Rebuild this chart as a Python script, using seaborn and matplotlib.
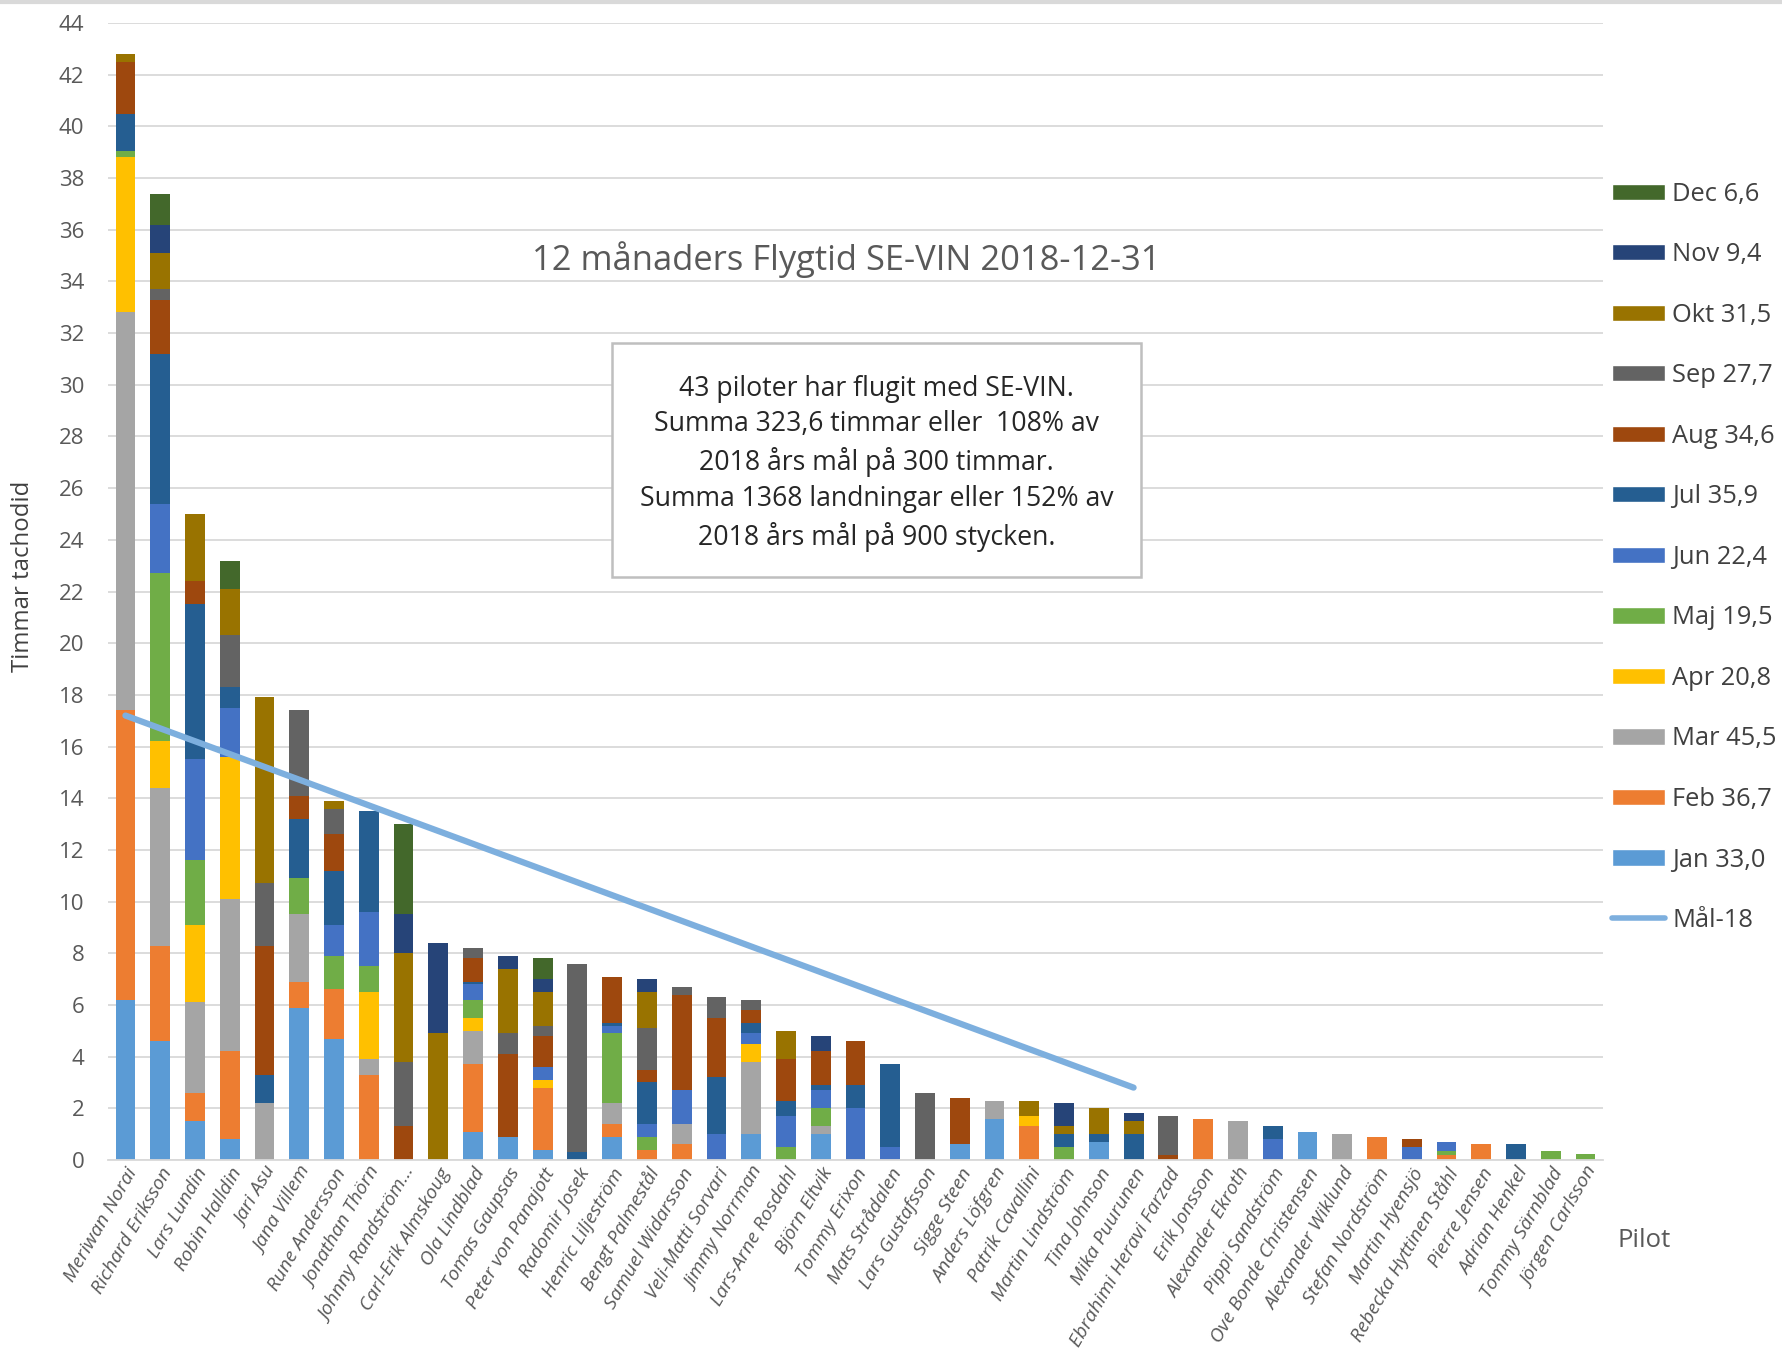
import pandas as pd
import matplotlib
matplotlib.use("Agg")
import matplotlib.pyplot as plt
from matplotlib.patches import Patch, Rectangle
from matplotlib.lines import Line2D
import seaborn as sns

# Pilots in chart order
pilots = ["Meriwan Norai", "Richard Eriksson", "Lars Lundin", "Robin Halldin", "Jari Asu",
          "Jana Villem", "Rune Andersson", "Jonathan Thörn", "Johnny Randström…", "Carl-Erik Almskoug",
          "Ola Lindblad", "Tomas Gaupsas", "Peter von Panajott", "Radomir Josek", "Henric Liljeström",
          "Bengt Palmestål", "Samuel Widarsson", "Veli-Matti Sorvari", "Jimmy Norrman", "Lars-Arne Rosdahl",
          "Björn Eltvik", "Tommy Erixon", "Mats Strådalen", "Lars Gustafsson", "Sigge Steen",
          "Anders Löfgren", "Patrik Cavallini", "Martin Lindström", "Tina Johnson", "Mika Puurunen",
          "Ebrahimi Heravi Farzad", "Erik Jonsson", "Alexander Ekroth", "Pippi Sandström", "Ove Bonde Christensen",
          "Alexander Wiklund", "Stefan Nordström", "Martin Hyensjö", "Rebecka Hyttinen Ståhl", "Pierre Jensen",
          "Adrian Henkel", "Tommy Särnblad", "Jörgen Carlsson"]

# Hours per month
jan = [6.2, 4.6, 1.5, 0.8, 0, 5.9, 4.7, 0, 0, 0,
       1.1, 0.9, 0.4, 0, 0.9, 0, 0, 0, 1.0, 0,
       1.0, 0, 0, 0, 0.6, 1.6, 0, 0, 0.7, 0,
       0, 0, 0, 0, 1.1, 0, 0, 0, 0, 0,
       0, 0, 0]
feb = [11.2, 3.7, 1.1, 3.4, 0, 1.0, 1.9, 3.3, 0, 0,
       2.6, 0, 2.4, 0, 0.5, 0.4, 0.6, 0, 0, 0,
       0, 0, 0, 0, 0, 0, 1.3, 0, 0, 0,
       0, 1.6, 0, 0, 0, 0, 0.9, 0, 0.2, 0.6,
       0, 0, 0]
mar = [15.4, 6.1, 3.5, 5.9, 2.2, 2.6, 0, 0.6, 0, 0,
       1.3, 0, 0, 0, 0.8, 0, 0.8, 0, 2.8, 0,
       0.3, 0, 0, 0, 0, 0.7, 0, 0, 0, 0,
       0, 0, 1.5, 0, 0, 1.0, 0, 0, 0, 0,
       0, 0, 0]
apr = [6.0, 1.8, 3.0, 5.5, 0, 0, 0, 2.6, 0, 0,
       0.5, 0, 0.3, 0, 0, 0, 0, 0, 0.7, 0,
       0, 0, 0, 0, 0, 0, 0.4, 0, 0, 0,
       0, 0, 0, 0, 0, 0, 0, 0, 0, 0,
       0, 0, 0]
maj = [0.25, 6.5, 2.5, 0, 0, 1.4, 1.3, 1.0, 0, 0,
       0.7, 0, 0, 0, 2.7, 0.5, 0, 0, 0, 0.5,
       0.7, 0, 0, 0, 0, 0, 0, 0.5, 0, 0,
       0, 0, 0, 0, 0, 0, 0, 0, 0.15, 0,
       0, 0.35, 0.25]
jun = [0, 2.7, 3.9, 1.9, 0, 0, 1.2, 2.1, 0, 0,
       0.6, 0, 0.5, 0, 0.3, 0.5, 1.3, 1.0, 0.4, 1.2,
       0.7, 2.0, 0.5, 0, 0, 0, 0, 0, 0, 0,
       0, 0, 0, 0.8, 0, 0, 0, 0.5, 0.33, 0,
       0, 0, 0]
jul = [1.45, 5.8, 6.0, 0.8, 1.1, 2.3, 2.1, 3.9, 0, 0,
       0.1, 0, 0, 0.3, 0.1, 1.6, 0, 2.2, 0.4, 0.6,
       0.2, 0.9, 3.2, 0, 0, 0, 0, 0.5, 0.3, 1.0,
       0, 0, 0, 0.5, 0, 0, 0, 0, 0, 0,
       0.6, 0, 0]
aug = [2.0, 2.1, 0.9, 0, 5.0, 0.9, 1.4, 0, 1.3, 0,
       0.9, 3.2, 1.2, 0, 1.8, 0.5, 3.7, 2.3, 0.5, 1.6,
       1.3, 1.7, 0, 0, 1.8, 0, 0, 0, 0, 0,
       0.2, 0, 0, 0, 0, 0, 0, 0.3, 0, 0,
       0, 0, 0]
sep = [0, 0.4, 0, 2.0, 2.4, 3.3, 1.0, 0, 2.5, 0,
       0.4, 0.8, 0.4, 7.3, 0, 1.6, 0.3, 0.8, 0.4, 0,
       0, 0, 0, 2.6, 0, 0, 0, 0, 0, 0,
       1.5, 0, 0, 0, 0, 0, 0, 0, 0, 0,
       0, 0, 0]
okt = [0.3, 1.4, 2.6, 1.8, 7.2, 0, 0.3, 0, 4.2, 4.9,
       0, 2.5, 1.3, 0, 0, 1.4, 0, 0, 0, 1.1,
       0, 0, 0, 0, 0, 0, 0.6, 0.3, 1.0, 0.5,
       0, 0, 0, 0, 0, 0, 0, 0, 0, 0,
       0, 0, 0]
nov = [0, 1.1, 0, 0, 0, 0, 0, 0, 1.5, 3.5,
       0, 0.5, 0.5, 0, 0, 0.5, 0, 0, 0, 0,
       0.6, 0, 0, 0, 0, 0, 0, 0.9, 0, 0.3,
       0, 0, 0, 0, 0, 0, 0, 0, 0, 0,
       0, 0, 0]
dec = [0, 1.2, 0, 1.1, 0, 0, 0, 0, 3.5, 0,
       0, 0, 0.8, 0, 0, 0, 0, 0, 0, 0,
       0, 0, 0, 0, 0, 0, 0, 0, 0, 0,
       0, 0, 0, 0, 0, 0, 0, 0, 0, 0,
       0, 0, 0]

months = ["Jan", "Feb", "Mar", "Apr", "Maj", "Jun", "Jul", "Aug", "Sep", "Okt", "Nov", "Dec"]
month_values = [jan, feb, mar, apr, maj, jun, jul, aug, sep, okt, nov, dec]
legend_labels = ["Jan 33,0", "Feb 36,7", "Mar 45,5", "Apr 20,8", "Maj 19,5", "Jun 22,4",
                 "Jul 35,9", "Aug 34,6", "Sep 27,7", "Okt 31,5", "Nov 9,4", "Dec 6,6"]
colors = ["#5B9BD5", "#ED7D31", "#A5A5A5", "#FFC000", "#70AD47", "#4472C4",
          "#255E91", "#9E480E", "#636363", "#997300", "#264478", "#43682B"]

# Goal line (Mål-18)
mal_pilots = ["Meriwan Norai", "Mika Puurunen"]
mal_values = [17.2, 2.8]

# Long-form table with cumulative heights for stacking
rows = []
for m, vals in zip(months, month_values):
    for p, v in zip(pilots, vals):
        rows.append({"pilot": p, "month": m, "hours": v})
df = pd.DataFrame(rows)
df["month"] = pd.Categorical(df["month"], categories=months, ordered=True)
df = df.sort_values(["pilot", "month"])
df["cum"] = df.groupby("pilot")["hours"].cumsum()

sns.set_theme(style="white")
plt.rcParams["font.family"] = ["Open Sans", "DejaVu Sans"]

fig = plt.figure(figsize=(17.83, 13.57), dpi=100)
ax = fig.add_axes([0.0606, 0.1452, 0.8384, 0.8378])

# Draw from the top month down so lower months cover the cumulative bars
for m, c in zip(months[::-1], colors[::-1]):
    sub = df[df["month"] == m]
    sns.barplot(data=sub, x="pilot", y="cum", order=pilots, color=c, saturation=1,
                width=0.57, linewidth=0, ax=ax, zorder=2)

mal_x = [pilots.index(p) for p in mal_pilots]
ax.plot(mal_x, mal_values, color="#7DAFDE", lw=4.5, solid_capstyle="round", zorder=3)

ax.set_xlim(-0.5, len(pilots) - 0.5)
ax.set_ylim(0, 44)
ax.set_yticks(range(0, 45, 2))
ax.yaxis.grid(True, color="#D9D9D9", lw=1.3, zorder=0)
ax.set_axisbelow(True)
for s in ["top", "right", "left"]:
    ax.spines[s].set_visible(False)
ax.spines["bottom"].set_color("#D9D9D9")
ax.spines["bottom"].set_linewidth(1.3)
ax.tick_params(axis="both", length=0, colors="#595959")
ax.tick_params(axis="y", labelsize=16, pad=17)
ax.set_xticks(range(len(pilots)))
ax.set_xticklabels(pilots, rotation=60, ha="right", rotation_mode="anchor",
                   fontsize=14, color="#595959", style="italic")
ax.set_xlabel("")
ax.set_ylabel("")

ax.text(0.494, 0.792, "12 månaders Flygtid SE-VIN 2018-12-31", transform=ax.transAxes,
        ha="center", va="center", fontsize=24.8, color="#595959")

ax.add_patch(Rectangle((0.337, 0.513), 0.354, 0.206, transform=ax.transAxes,
                       facecolor="white", edgecolor="#BFBFBF", lw=1.8, zorder=4))
info = ("43 piloter har flugit med SE-VIN.\n"
        "Summa 323,6 timmar eller  108% av\n"
        "2018 års mål på 300 timmar.\n"
        "Summa 1368 landningar eller 152% av\n"
        "2018 års mål på 900 stycken.")
ax.text(0.514, 0.613, info, transform=ax.transAxes, ha="center", va="center",
        fontsize=19.2, color="#262626", linespacing=1.375, zorder=5)

fig.text(0.006, 0.575, "Timmar tachodid", rotation=90, ha="left", va="center",
         fontsize=17.3, color="#404040")
fig.text(0.907, 0.086, "Pilot", ha="left", va="center", fontsize=18.5, color="#595959")

# thin frame line at the top of the image
fig.add_artist(Line2D([0, 1], [0.9985, 0.9985], transform=fig.transFigure,
                      color="#D9D9D9", lw=3))

handles = [Patch(facecolor=c, label=l) for c, l in zip(colors[::-1], legend_labels[::-1])]
handles.append(Line2D([0], [0], color="#7DAFDE", lw=4, solid_capstyle="round", label="Mål-18"))
fig.legend(handles=handles, loc="upper left", bbox_to_anchor=(0.891, 0.883), frameon=False,
           fontsize=18.4, handlelength=2.08, handleheight=0.6, labelspacing=1.39,
           handletextpad=0.3, labelcolor="#404040")

fig.savefig("out.png", dpi=100)
